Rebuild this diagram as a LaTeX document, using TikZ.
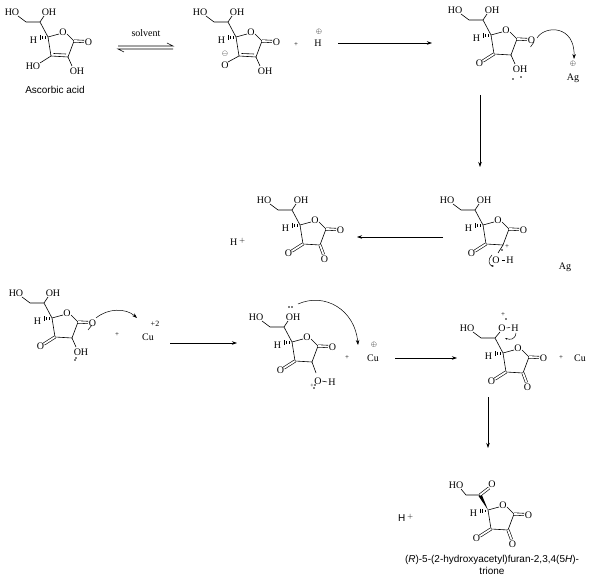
\documentclass[tikz,border=0pt]{standalone}
\usepackage{fontspec}
\setmainfont{Liberation Serif}
\newfontfamily\sansf{Liberation Sans}
\usetikzlibrary{arrows.meta}
\newcommand\RingBase{%
  \draw (0,0)--(11,-3) (19,-3)--(26,4)--(20,20)--(3,19)--(0,0);
  \node[lb] at (15,-5) {O};
  \draw[dbl] (26,4)--(36,4.5);
  \node[lb] at (40.5,5) {O};
  \draw[line width=0.5pt] (-3,-0.5)--(-3,1.8) (-5.5,-1)--(-5.5,2.5) (-8,-1.5)--(-8,3.2);
  \node[lb] at (-14.5,3) {H};}
\newcommand\SideChain{%
  \draw (0,0)--(-8,-15)--(-22,-15)--(-30,-21) (-8,-15)--(-4,-21);
  \node[lb] at (-36,-25) {HO};
  \node[lb] at (1,-25) {OH};}
\newcommand\KetoThree{\draw[dbl] (3,19)--(-8,26); \node[lb] at (-11.5,28.5) {O};}
\newcommand\KetoTwo{\draw[dbl] (20,20)--(23.5,29.5); \node[lb] at (24.5,34) {O};}
\tikzset{lb/.style={inner sep=0pt,font=\fontsize{10}{10}\selectfont},
  dbl/.style={double,double distance=1.8pt},
  arr/.style={-{Stealth[length=5pt,width=3.5pt]}},
  every picture/.style={line width=0.6pt}}
\begin{document}
\begin{tikzpicture}[x=1pt,y=-1pt,line width=0.6pt]
\useasboundingbox (0,0) rectangle (616,585);
% M1 ascorbic acid
\begin{scope}[shift={(48,37)}]
\RingBase \SideChain
\draw (18,17)--(5.5,16.5);
\draw (3,19)--(-8,26); \node[lb] at (-15,29) {HO};
\draw (20,20)--(24,29); \node[lb] at (29,34) {OH};
\end{scope}
\node[font=\sansf\fontsize{10}{10}\selectfont] (name1) at (55,90) {Ascorbic acid};
% equilibrium
\node[lb] (solv) at (146,33) {solvent};
\coordinate (e1) at (118,46); \coordinate (e2) at (173,46);
\coordinate (e3) at (173,49); \coordinate (e4) at (118,49);
\draw (e1)--(e2)--++(-6,-3);
\draw (e3)--(e4)--++(6,3);
% M2
\begin{scope}[shift={(236,37)}]
\RingBase \SideChain
\draw (18,17)--(5.5,16.5);
\draw (3,19)--(-8,25); \node[lb] at (-11,28) {O}; \node[lb,font=\fontsize{7}{7}\selectfont] at (-11,17) {$\ominus$};
\draw (20,20)--(24,29); \node[lb] at (29,34) {OH};
\end{scope}
\node[lb,font=\fontsize{7}{7}\selectfont] (plus1) at (296,45) {+};
\node[lb] (hp) at (318,43) {H};
\node[lb,font=\fontsize{7}{7}\selectfont] at (319,32) {$\oplus$};
\draw[arr] (338,43)--(432,43);
% M3
\begin{scope}[shift={(491,35)}]
\RingBase \SideChain \KetoThree
\draw (20,20)--(24,29); \node[lb] at (29,34) {OH};
\fill (22,44) circle (0.9) (30,42) circle (0.9);
\draw[line width=0.5pt] (39.5,12)--(43,7);
\end{scope}
\node[lb] (ag1) at (573,78) {Ag};
\node[lb,font=\fontsize{7}{7}\selectfont] (agp) at (573,64) {$\oplus$};
\draw[arr,line width=0.5pt] (537,38) .. controls (545,25) and (575,25) .. (574,59);
\draw[arr] (480,95)--(480,167);
% M4 right
\begin{scope}[shift={(483,225)}]
\RingBase \SideChain \KetoThree
\draw (20,20)--(15,28); \node[lb] at (13,35) {O};
\draw[line width=0.5pt] (18.5,35)--(22,35); \node[lb] at (27,35.5) {H};
\fill (19,25) circle (0.9); \node[lb,font=\fontsize{7}{7}\selectfont] at (24,22) {+};
\draw[line width=0.5pt,-{Stealth[length=2.5pt]}] (9,30) .. controls (4,34) and (6,41) .. (11,41);
\end{scope}
\node[lb] (ag2) at (565,267) {Ag};
\draw[arr] (443,237)--(357,237);
% M4 left
\begin{scope}[shift={(300,225)}]
\RingBase \SideChain \KetoThree \KetoTwo
\end{scope}
\node[lb] (hp2) at (238,242) {H\,$^{+}$};
% M5
\begin{scope}[shift={(52,318)}]
\RingBase \SideChain \KetoThree
\draw (20,20)--(24,29); \node[lb] at (29,34) {OH};
\fill (23,42) circle (0.9) (24,40) circle (0.9);
\draw[line width=0.5pt] (36,12)--(40,7);
\end{scope}
\draw[arr,line width=0.5pt] (96,318) .. controls (108,308) and (126,308) .. (137,318);
\node[lb,font=\fontsize{7}{7}\selectfont] (plus2) at (117,335) {+};
\node[lb] (cu1) at (148,337) {Cu};
\node[lb,font=\fontsize{8}{8}\selectfont] at (155,324) {+2};
\draw[arr] (170,343)--(237,343);
% M6
\begin{scope}[shift={(292,342)}]
\RingBase \SideChain \KetoThree
\draw (20,20)--(24,31); \node[lb] at (26,39) {O};
\draw[line width=0.5pt] (30,39)--(35,40); \node[lb] at (40,40.5) {H};
\node[lb,font=\fontsize{6}{6}\selectfont] at (20,44) {+};
\fill (22,46) circle (0.8) (23,43) circle (0.8);
\fill (-3,-35) circle (0.9) (0,-35) circle (0.9);
\end{scope}
\draw[arr,line width=0.5pt] (298,304) .. controls (325,292) and (355,310) .. (358,345);
\node[lb,font=\fontsize{7}{7}\selectfont] (plus3) at (347,358) {+};
\node[lb] (cu2) at (373,358) {Cu};
\node[lb,font=\fontsize{7}{7}\selectfont] at (374,345) {$\oplus$};
\draw[arr] (395,358)--(457,358);
% M7
\begin{scope}[shift={(503,353)}]
\RingBase \KetoThree \KetoTwo
\draw (0,0)--(-8,-15)--(-22,-15)--(-30,-21) (-8,-15)--(-3,-21);
\node[lb] at (-36,-25) {HO};
\node[lb] at (-1,-25) {O};
\draw[line width=0.5pt] (3.5,-25)--(7,-25.5); \node[lb] at (12,-25) {H};
\node[lb,font=\fontsize{7}{7}\selectfont] at (0,-38) {+}; \fill (3,-34) circle (0.9);
\draw[line width=0.5pt,-{Stealth[length=2.5pt]}] (13,-20) .. controls (12,-13) and (7,-13) .. (2,-15);
\end{scope}
\node[lb,font=\fontsize{7}{7}\selectfont] (plus4) at (561,358) {+};
\node[lb] (cu3) at (580,358) {Cu};
\draw[arr] (488,397)--(488,448);
% M8
\begin{scope}[shift={(488,510)}]
\RingBase \KetoThree \KetoTwo
\fill (0,0)--(-9.5,-14)--(-6.5,-16)--cycle;
\draw (-8,-15)--(-22,-15)--(-27,-21);
\draw[dbl] (-8,-15)--(1,-22);
\node[lb] at (-32,-25) {HO};
\node[lb] at (4,-26) {O};
\end{scope}
\node[font=\sansf\fontsize{10}{10}\selectfont,inner sep=0] (hp3) at (406,518) {H\,$^{+}$};
\node[font=\sansf\fontsize{10}{12}\selectfont,align=center,inner sep=0] (name2) at (492,565) {(\textit{R})-5-(2-hydroxyacetyl)furan-2,3,4(5\textit{H})-\\trione};
\end{tikzpicture}
\end{document}
